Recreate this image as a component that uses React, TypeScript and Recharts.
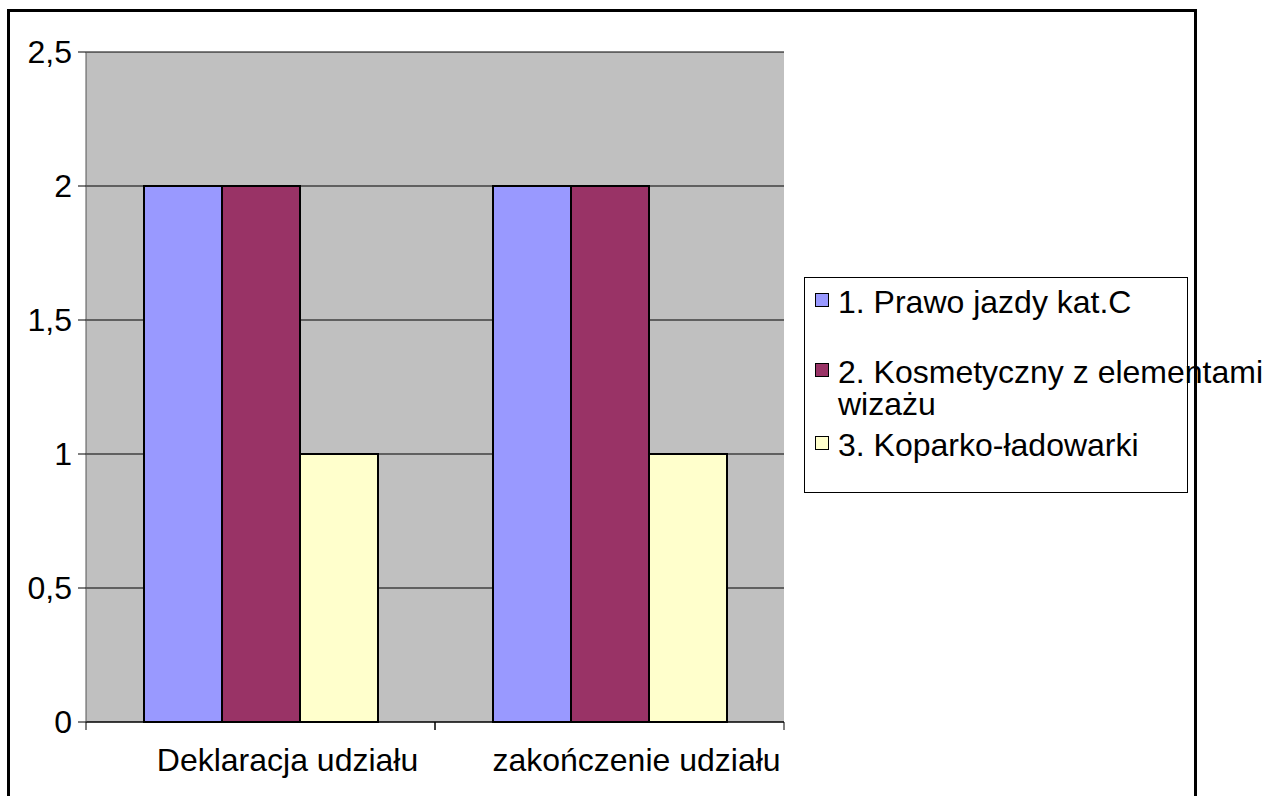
import React from "react";
import { BarChart, Bar, XAxis, YAxis, CartesianGrid } from "recharts";

// chart data
const categories = ["Deklaracja udziału", "zakończenie udziału"];
const prawoJazdy = [2, 2];
const kosmetyczny = [2, 2];
const koparki = [1, 1];
const yTicks = [0, 0.5, 1, 1.5, 2, 2.5];

const seriesNames = [
  "1. Prawo jazdy kat.C",
  "2. Kosmetyczny z elementami wizażu",
  "3. Koparko-ładowarki",
];
const seriesColors = ["#9999FF", "#993366", "#FFFFCC"];
const seriesKeys = ["s1", "s2", "s3"];

const data = categories.map((name, i) => ({
  name,
  s1: prawoJazdy[i],
  s2: kosmetyczny[i],
  s3: koparki[i],
}));

const FONT = "'Liberation Sans', Arial, sans-serif";
const FONT_SIZE = 32;
const PLOT_LEFT = 86;
const PLOT_RIGHT = 784;
const HALF_BAND = (PLOT_RIGHT - PLOT_LEFT) / categories.length / 2;

// legend item offsets inside the box (Excel spacing is uneven)
const legendItemTops = [8, 78, 151];

function XTick(props: any) {
  const { x, y, payload } = props;
  return (
    <g>
      <line x1={x - HALF_BAND} x2={x - HALF_BAND} y1={y} y2={y + 8} stroke="#000" />
      <line x1={x + HALF_BAND} x2={x + HALF_BAND} y1={y} y2={y + 8} stroke="#000" />
      <text x={x + 27} y={y + 49} textAnchor="middle" fill="#000" fontSize={FONT_SIZE} fontFamily={FONT}>
        {payload.value}
      </text>
    </g>
  );
}

function LegendBox() {
  return (
    <div
      style={{
        position: "absolute",
        left: 804,
        top: 277,
        width: 384,
        height: 216,
        border: "1px solid #000",
        boxSizing: "border-box",
        background: "#fff",
        fontFamily: FONT,
        fontSize: FONT_SIZE,
        lineHeight: "32px",
        color: "#000",
      }}
    >
      {seriesNames.map((name, i) => (
        <div key={name} style={{ position: "absolute", left: 10, top: legendItemTops[i] }}>
          <div
            style={{
              position: "absolute",
              left: 0,
              top: 7,
              width: 14,
              height: 14,
              boxSizing: "border-box",
              border: "1px solid #000",
              background: seriesColors[i],
            }}
          />
          <div style={{ position: "absolute", left: 23, top: 0, width: 450, textAlign: "left" }}>
            {name}
          </div>
        </div>
      ))}
    </div>
  );
}

export default function App() {
  return (
    <div
      style={{
        position: "fixed",
        left: 0,
        top: 0,
        width: 1280,
        height: 796,
        overflow: "hidden",
        background: "#fff",
      }}
    >
      <div style={{ position: "absolute", left: 0, top: 0 }}>
        <BarChart
          width={1280}
          height={796}
          data={data}
          margin={{ top: 52, right: 1280 - PLOT_RIGHT, bottom: 0, left: PLOT_LEFT - 60 }}
          barGap={0}
          barCategoryGap={58}
        >
          <CartesianGrid horizontal vertical={false} fill="#C0C0C0" stroke="#000" fillOpacity={1} />
          <XAxis
            dataKey="name"
            height={74}
            axisLine={{ stroke: "#000" }}
            tickLine={false}
            tickSize={0}
            tickMargin={0}
            tick={<XTick />}
            interval={0}
          />
          <YAxis
            width={60}
            domain={[0, 2.5]}
            ticks={yTicks}
            axisLine={{ stroke: "#555" }}
            tickLine={{ stroke: "#000" }}
            tickSize={8}
            tickMargin={6}
            tick={{ fill: "#000", fontSize: FONT_SIZE, fontFamily: FONT }}
            tickFormatter={(v) => String(v).replace(".", ",")}
          />
          {seriesKeys.map((k, i) => (
            <Bar
              key={k}
              dataKey={k}
              name={seriesNames[i]}
              fill={seriesColors[i]}
              stroke="#000"
              strokeWidth={2}
              isAnimationActive={false}
            />
          ))}
        </BarChart>
      </div>
      <LegendBox />
      <div
        style={{
          position: "absolute",
          left: 7,
          top: 9,
          width: 1190,
          height: 900,
          border: "3px solid #000",
          boxSizing: "border-box",
          pointerEvents: "none",
        }}
      />
    </div>
  );
}
